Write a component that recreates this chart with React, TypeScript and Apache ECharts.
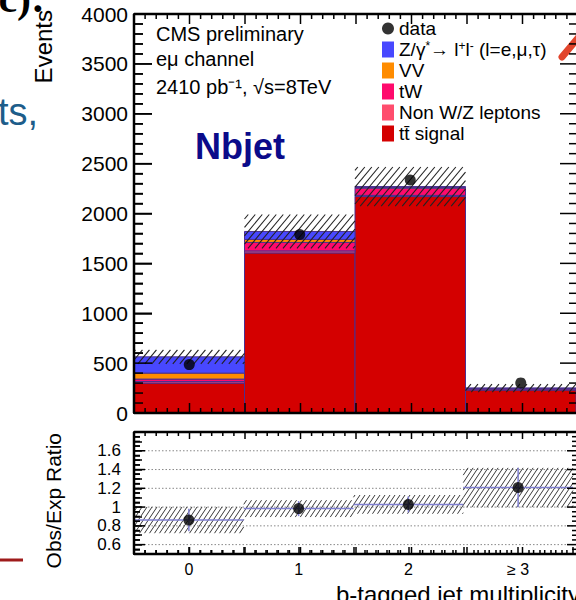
import React, { useEffect, useRef } from 'react';
import * as echarts from 'echarts';

// b-tagged jet multiplicity bins (x = bin centre)
const bins = [0, 1, 2, 3];
const binLabels = ['0', '1', '2', '≥ 3'];

// Expected events per process, stacked bottom → top
const ttSignal = [300, 1605, 2170, 231];
const nonWZLeptons = [15, 20, 12, 3];
const singleTopTW = [25, 85, 72, 12];
const dibosonVV = [60, 30, 6, 1];
const drellYan = [163, 80, 10, 3];

// Observed events
const observed = [485, 1790, 2335, 302];

// Uncertainty on the expectation (events) and on the ratio
const expectedUnc = [70, 170, 196, 40];
const ratioStatErr = [0.12, 0.08, 0.085, 0.21];
const ratioBandUnc = [0.14, 0.09, 0.1, 0.21];

// Labelled values / reference lines of the ratio panel
const ratioGridValues = [0.6, 0.8, 1.0, 1.2, 1.4, 1.6];

const processNames = [
  'tt\u0304 signal',
  'Non W/Z leptons',
  'tW',
  'VV',
  'Z/γ*→ l+l- (l=e,μ,τ)',
];
const processValues = [ttSignal, nonWZLeptons, singleTopTW, dibosonVV, drellYan];
const processColors = ['#d40000', '#ff4d6d', '#ff0a6c', '#ff8c00', '#4848ff'];

const FONT = '"Liberation Sans", Arial, Helvetica, sans-serif';
const EDGE = '#4b2f8f';
const RATIO_LINE = '#7f7fd0';

const X_MIN = -0.5;
const X_MAX = 3.5;
const Y_MAIN = [0, 4000];
const Y_RATIO = [0.5, 1.8];

// panel boxes (pixels)
const MAIN_BOX = { left: 134, top: 14, width: 444, height: 399 };
const RATIO_BOX = { left: 134, top: 432, width: 444, height: 122 };

// diagonal "/" hatching inside a pixel rectangle
function hatch(x0: number, y0: number, x1: number, y1: number, dx: number, m: number, stroke: string, lw: number) {
  const out: any[] = [];
  const step = m * dx;
  const cMin = m * x0 + y0;
  const cMax = m * x1 + y1;
  for (let c = Math.ceil(cMin / step) * step; c <= cMax; c += step) {
    const xa = Math.max(x0, (c - y1) / m);
    const xb = Math.min(x1, (c - y0) / m);
    if (xb - xa < 0.5) continue;
    out.push({
      type: 'line',
      shape: { x1: xa, y1: c - m * xa, x2: xb, y2: c - m * xb },
      style: { stroke, lineWidth: lw },
    });
  }
  return out;
}

const text = (x: number, y: number, str: string, size: number, extra: any = {}) => ({
  type: 'text',
  x,
  y,
  silent: true,
  z: 20,
  style: {
    text: str,
    fontSize: size,
    fontFamily: FONT,
    fill: '#000',
    align: 'left',
    verticalAlign: 'middle',
    ...extra,
  },
});

// ROOT-style frame: box plus inward ticks on all four sides
function frameGraphics(
  box: { left: number; top: number; width: number; height: number },
  yRange: number[],
  yStep: number,
  isMajorY: (k: number) => boolean,
  yLen: number[],
  xLen: number[],
) {
  const out: any[] = [];
  const x0 = box.left;
  const x1 = box.left + box.width;
  const y0 = box.top;
  const y1 = box.top + box.height;
  const seg = (a: number, b: number, c: number, d: number, lw: number) =>
    out.push({
      type: 'line',
      silent: true,
      z: 30,
      shape: { x1: a, y1: b, x2: c, y2: d },
      style: { stroke: '#000', lineWidth: lw },
    });
  const nY = Math.round((yRange[1] - yRange[0]) / yStep);
  for (let k = 0; k <= nY; k++) {
    const y = y1 - (k / nY) * box.height;
    const len = isMajorY(k) ? yLen[0] : yLen[1];
    seg(x0, y, x0 + len, y, 1.5);
    seg(x1, y, x1 - len, y, 1.5);
  }
  const nX = Math.round((X_MAX - X_MIN) / 0.1);
  for (let k = 0; k <= nX; k++) {
    const x = x0 + (k / nX) * box.width;
    const len = k % 5 === 0 ? xLen[0] : xLen[1];
    seg(x, y1, x, y1 - len, 1.5);
    seg(x, y0, x, y0 + len, 1.5);
  }
  seg(x0, y0, x1, y0, 2.5);
  seg(x0, y1, x1, y1, 2.5);
  seg(x0, y0, x0, y1, 2.5);
  seg(x1, y0, x1, y1, 2.5);
  return out;
}

const graphics = [
  text(156, 34, 'CMS preliminary', 20),
  text(156, 59, 'eμ channel', 20),
  text(156, 87, '2410 pb⁻¹, √s=8TeV', 20),
  text(195, 146, 'Nbjet', 36, { fontWeight: 'bold', fill: '#0b0b8a' }),
  {
    type: 'text',
    x: 43,
    y: 10,
    rotation: Math.PI / 2,
    silent: true,
    style: { text: 'Events', fontSize: 24, fontFamily: FONT, fill: '#000', align: 'right', verticalAlign: 'middle' },
  },
  {
    type: 'text',
    x: 53,
    y: 433,
    rotation: Math.PI / 2,
    silent: true,
    style: { text: 'Obs/Exp Ratio', fontSize: 21, fontFamily: FONT, fill: '#000', align: 'right', verticalAlign: 'middle' },
  },
  text(580, 594, 'b-tagged jet multiplicity', 24, { align: 'right' }),
  // surrounding slide fragments
  text(45, -2, 'c):', 42, {
    align: 'right',
    fontWeight: 'bold',
    fontFamily: '"Liberation Serif", "DejaVu Serif", serif',
  }),
  text(-2, 112, 'ts,', 38, { fill: '#1d5d8a' }),
  {
    type: 'line',
    silent: true,
    shape: { x1: 0, y1: 560, x2: 23, y2: 560 },
    style: { stroke: '#9e1b1b', lineWidth: 3 },
  },
  {
    type: 'line',
    silent: true,
    shape: { x1: 562, y1: 57, x2: 578, y2: 38 },
    style: { stroke: '#e2452c', lineWidth: 7, lineCap: 'round' },
  },
  ...frameGraphics(MAIN_BOX, Y_MAIN, 100, (k) => k % 5 === 0, [18, 9], [10, 5]),
  ...frameGraphics(RATIO_BOX, Y_RATIO, 0.05, (k) => (k - 2) % 4 === 0, [11, 6], [7, 4]),
];

function buildOption() {
  // cumulative stack boundaries
  const lower: number[][] = [];
  const upper: number[][] = [];
  const running = bins.map(() => 0);
  processValues.forEach((vals) => {
    lower.push(running.slice());
    vals.forEach((v, i) => (running[i] += v));
    upper.push(running.slice());
  });
  const totals = running.slice();
  const ratio = observed.map((o, i) => o / totals[i]);

  const stackSeries = processValues.map((_, k) => ({
    type: 'custom',
    name: processNames[k],
    xAxisIndex: 0,
    yAxisIndex: 0,
    itemStyle: { color: processColors[k] },
    encode: { x: 0, y: [1, 2] },
    data: bins.map((b, i) => [b, lower[k][i], upper[k][i]]),
    renderItem: (_p: any, api: any) => {
      const b = api.value(0);
      const a = api.coord([b - 0.5, api.value(2)]);
      const c = api.coord([b + 0.5, api.value(1)]);
      return {
        type: 'rect',
        shape: { x: a[0], y: a[1], width: c[0] - a[0], height: c[1] - a[1] },
        style: { fill: processColors[k], stroke: EDGE, lineWidth: 1 },
      };
    },
  }));

  const bandSeries = {
    type: 'custom',
    name: 'expUnc',
    xAxisIndex: 0,
    yAxisIndex: 0,
    encode: { x: 0, y: [1, 2] },
    data: bins.map((b, i) => [b, totals[i] - expectedUnc[i], totals[i] + expectedUnc[i]]),
    renderItem: (_p: any, api: any) => {
      const b = api.value(0);
      const a = api.coord([b - 0.5, api.value(2)]);
      const c = api.coord([b + 0.5, api.value(1)]);
      return { type: 'group', children: hatch(a[0], a[1], c[0], c[1], 7, 1.2, '#222', 1.1) };
    },
  };

  const dataSeries = {
    type: 'scatter',
    name: 'data',
    xAxisIndex: 0,
    yAxisIndex: 0,
    symbol: 'circle',
    symbolSize: 11,
    itemStyle: { color: '#000' },
    z: 5,
    data: bins.map((b, i) => [b, observed[i]]),
  };

  const ratioGridSeries = {
    type: 'custom',
    name: 'ratioGrid',
    xAxisIndex: 1,
    yAxisIndex: 1,
    encode: { x: [0, 2], y: 1 },
    data: ratioGridValues.map((v) => [X_MIN, v, X_MAX]),
    renderItem: (_p: any, api: any) => {
      const a = api.coord([api.value(0), api.value(1)]);
      const c = api.coord([api.value(2), api.value(1)]);
      return {
        type: 'line',
        shape: { x1: a[0], y1: a[1], x2: c[0], y2: c[1] },
        style: { stroke: '#888', lineWidth: 1, lineDash: [1.5, 2] },
      };
    },
  };

  const ratioBandSeries = {
    type: 'custom',
    name: 'ratioBand',
    xAxisIndex: 1,
    yAxisIndex: 1,
    encode: { x: 0, y: [1, 2] },
    data: bins.map((b, i) => [b, ratio[i] - ratioBandUnc[i], ratio[i] + ratioBandUnc[i]]),
    renderItem: (_p: any, api: any) => {
      const b = api.value(0);
      const a = api.coord([b - 0.5, api.value(2)]);
      const c = api.coord([b + 0.5, api.value(1)]);
      return { type: 'group', children: hatch(a[0], a[1], c[0], c[1], 5, 1.5, '#3a3a3a', 1) };
    },
  };

  const ratioBarSeries = {
    type: 'custom',
    name: 'ratioBars',
    xAxisIndex: 1,
    yAxisIndex: 1,
    encode: { x: 0, y: 1 },
    data: bins.map((b, i) => [b, ratio[i], ratioStatErr[i]]),
    renderItem: (_p: any, api: any) => {
      const b = api.value(0);
      const r = api.value(1);
      const e = api.value(2);
      const l = api.coord([b - 0.5, r]);
      const rr = api.coord([b + 0.5, r]);
      const t = api.coord([b, r + e]);
      const d = api.coord([b, r - e]);
      return {
        type: 'group',
        children: [
          { type: 'line', shape: { x1: l[0], y1: l[1], x2: rr[0], y2: rr[1] }, style: { stroke: RATIO_LINE, lineWidth: 1.5 } },
          { type: 'line', shape: { x1: t[0], y1: t[1], x2: d[0], y2: d[1] }, style: { stroke: RATIO_LINE, lineWidth: 1.5 } },
        ],
      };
    },
  };

  const ratioPointSeries = {
    type: 'scatter',
    name: 'ratio',
    xAxisIndex: 1,
    yAxisIndex: 1,
    symbol: 'circle',
    symbolSize: 11,
    itemStyle: { color: '#000' },
    z: 5,
    data: bins.map((b, i) => [b, ratio[i]]),
  };

  const axisLine = { show: true, onZero: false, lineStyle: { color: '#000', width: 2 } };

  const xAxisFor = (gridIndex: number, labels: boolean, major: number, minor: number) => ({
    type: 'value',
    gridIndex,
    min: X_MIN,
    max: X_MAX,
    interval: 0.5,
    axisLine,
    axisTick: { show: true, inside: true, length: major, lineStyle: { color: '#000', width: 1.5 } },
    minorTick: { show: true, splitNumber: 5, length: minor, lineStyle: { color: '#000', width: 1.5 } },
    splitLine: { show: false },
    axisLabel: labels
      ? {
          show: true,
          margin: 7,
          fontSize: 16,
          fontFamily: FONT,
          color: '#000',
          formatter: (v: number) => {
            const idx = bins.indexOf(Math.round(v * 2) / 2);
            return idx >= 0 ? binLabels[idx] : '';
          },
        }
      : { show: false },
  });

  const yMain = {
    type: 'value',
    gridIndex: 0,
    min: Y_MAIN[0],
    max: Y_MAIN[1],
    interval: 500,
    axisLine,
    axisTick: { show: true, inside: true, length: 18, lineStyle: { color: '#000', width: 1.5 } },
    minorTick: { show: true, splitNumber: 5, length: 9, lineStyle: { color: '#000', width: 1.5 } },
    splitLine: { show: false },
    axisLabel: { show: true, margin: 6, fontSize: 21, fontFamily: FONT, color: '#000', formatter: (v: number) => String(v) },
  };

  const yRatio = {
    type: 'value',
    gridIndex: 1,
    min: Y_RATIO[0],
    max: Y_RATIO[1],
    interval: 0.1,
    axisLine,
    axisTick: { show: true, inside: true, length: 8, lineStyle: { color: '#000', width: 1.5 } },
    minorTick: { show: true, splitNumber: 2, length: 6, lineStyle: { color: '#000', width: 1.5 } },
    splitLine: { show: false },
    axisLabel: {
      show: true,
      margin: 13,
      fontSize: 17,
      lineHeight: 17,
      fontFamily: FONT,
      color: '#000',
      formatter: (v: number) => {
        const t = Math.round(v * 10);
        if (!ratioGridValues.some((g) => Math.round(g * 10) === t)) return '';
        return t === 10 ? '1' : (t / 10).toFixed(1);
      },
    },
  };

  return {
    animation: false,
    backgroundColor: '#fff',
    grid: [MAIN_BOX, RATIO_BOX],
    xAxis: [xAxisFor(0, false, 10, 5), xAxisFor(1, true, 7, 4)],
    yAxis: [yMain, yRatio],
    legend: {
      orient: 'vertical',
      left: 377,
      top: 14,
      itemWidth: 12,
      itemHeight: 16,
      itemGap: 2,
      selectedMode: false,
      formatter: (name: string) =>
        name === processNames[4]
          ? '{n|Z/γ}{s|*}{n|→ l}{s|+}{n|l}{s|-}{n| (l=e,μ,τ)}'
          : '{n|' + name + '}',
      textStyle: {
        fontSize: 19,
        fontFamily: FONT,
        color: '#000',
        rich: {
          n: { fontSize: 19, fontFamily: FONT, color: '#000', lineHeight: 19 },
          s: { fontSize: 12, fontFamily: FONT, color: '#000', lineHeight: 19, verticalAlign: 'top' },
        },
      },
      data: [
        { name: 'data', icon: 'circle' },
        { name: processNames[4], icon: 'rect' },
        { name: processNames[3], icon: 'rect' },
        { name: processNames[2], icon: 'rect' },
        { name: processNames[1], icon: 'rect' },
        { name: processNames[0], icon: 'rect' },
      ],
    },
    graphic: { elements: graphics },
    series: [
      ...stackSeries,
      bandSeries,
      dataSeries,
      ratioGridSeries,
      ratioBandSeries,
      ratioBarSeries,
      ratioPointSeries,
    ],
  };
}

export default function App() {
  const ref = useRef<HTMLDivElement>(null);
  useEffect(() => {
    if (!ref.current) return;
    const chart = echarts.init(ref.current, null, { renderer: 'svg' });
    chart.setOption(buildOption() as any);
    return () => chart.dispose();
  }, []);
  return (
    <div
      ref={ref}
      style={{ position: 'absolute', left: 0, top: 0, width: 576, height: 600, background: '#fff' }}
    />
  );
}
